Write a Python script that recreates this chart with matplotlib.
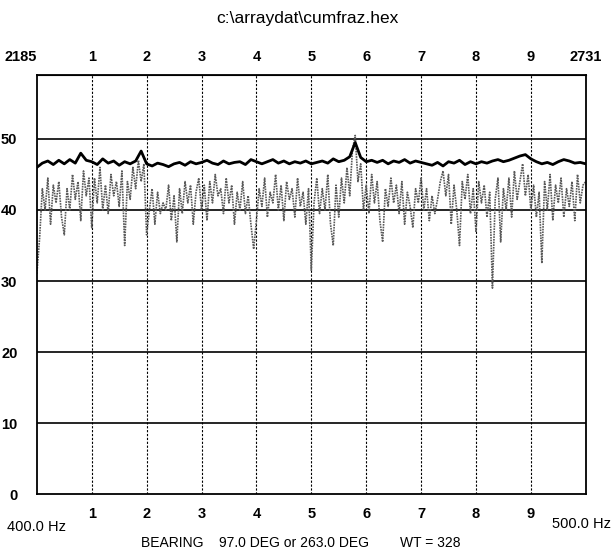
import numpy as np
import matplotlib
matplotlib.use("Agg")
import matplotlib.pyplot as plt

# upper (dark) trace, one value per 0.1 division
upper_trace = [
    46.0, 46.6, 46.9, 46.4, 47.0, 46.5, 47.1, 46.6, 48.0, 47.0, 46.8,
    46.4, 47.2, 46.6, 46.9, 46.3, 46.8, 46.5, 46.9, 48.3, 46.5,
    46.2, 46.6, 46.4, 46.1, 46.5, 46.7, 46.3, 46.8, 46.5, 46.7,
    47.0, 46.6, 46.4, 46.9, 46.5, 46.7, 46.8, 46.4, 47.1, 46.8,
    46.5, 46.8, 47.1, 46.6, 46.9, 46.5, 46.8, 46.6, 46.9, 46.5,
    46.7, 46.9, 46.6, 47.2, 46.8, 47.0, 47.5, 49.5, 47.4, 46.8,
    47.0, 46.7, 47.0, 46.5, 46.9, 46.7, 47.1, 46.6, 46.9, 46.7,
    46.5, 46.3, 46.7, 46.2, 46.8, 46.6, 47.0, 46.4, 46.8, 46.5,
    46.8, 46.6, 46.9, 47.1, 46.8, 47.0, 47.3, 47.6, 47.8, 47.2,
    46.8, 46.5, 46.7, 46.4, 46.8, 47.1, 46.9, 46.6, 46.7, 46.5,
]

# lower (grey, dotted) trace, one value per 0.05 division
lower_trace = [
    31.0, 36.0, 43.0, 40.0, 44.5, 38.0, 43.5, 41.0, 44.0, 39.0,
    36.5, 43.0, 40.0, 45.0, 41.5, 44.0, 38.5, 45.5, 42.0, 44.5,
    37.5, 44.5, 41.0, 46.0, 40.0, 43.5, 39.5, 45.0, 42.0, 44.0,
    40.5, 45.5, 35.0, 44.0, 41.5, 46.0, 43.0, 47.0, 44.0, 46.5,
    36.5, 40.0, 43.0, 38.0, 42.5, 39.5, 41.0, 40.0, 43.5, 38.5,
    42.0, 35.5, 43.0, 39.5, 44.0, 41.0, 43.5, 38.0, 42.5, 44.5,
    40.0, 43.5, 38.5, 44.0, 41.0, 45.0, 42.0, 43.0, 39.5, 44.5,
    41.0, 43.5, 38.0, 42.5, 40.0, 44.0, 39.5, 42.0, 38.0, 34.5,
    38.5, 43.0, 40.5, 44.5, 39.0, 42.5, 41.0, 45.0, 40.0, 43.5,
    38.5, 44.0, 41.5, 43.0, 39.0, 44.5, 40.5, 42.5, 38.0, 43.0,
    31.5, 41.0, 44.5, 39.5, 43.0, 40.0, 45.0, 38.0, 35.0, 43.5,
    39.0, 44.5, 41.0, 46.0, 42.0, 48.5, 50.5, 44.0, 46.5, 40.0,
    43.5, 39.5, 45.0, 41.0, 44.0, 38.5, 35.5, 43.0, 40.5, 44.5,
    41.0, 43.5, 39.5, 44.0, 38.0, 42.5, 40.5, 37.5, 43.0, 41.0,
    44.5, 40.0, 43.0, 38.5, 42.0, 39.5, 41.5, 44.0, 45.5, 42.0,
    45.0, 38.0, 43.5, 40.0, 35.0, 44.0, 41.5, 45.0, 39.5, 43.0,
    37.0, 44.0, 41.0, 43.5, 39.0, 42.5, 29.0, 41.5, 44.5, 35.5,
    43.0, 40.0, 44.5, 39.0, 45.5, 41.5, 44.0, 46.5, 42.0, 45.0,
    40.0, 43.5, 39.0, 42.5, 32.5, 44.0, 40.0, 45.0, 38.5, 43.5,
    41.0, 44.5, 39.0, 43.0, 40.5, 44.0, 38.5, 45.0, 41.0, 43.5,
    44.0,
]

top_labels = ["2185", "1", "2", "3", "4", "5", "6", "7", "8", "9", "2731"]
bottom_labels = ["1", "2", "3", "4", "5", "6", "7", "8", "9"]
y_ticks = [0, 10, 20, 30, 40, 50]

plt.rcParams['font.family'] = ['Liberation Sans', 'DejaVu Sans']

fig = plt.figure(figsize=(6.14, 5.52), dpi=100)
ax = fig.add_axes([0.060, 0.105, 0.894, 0.759])

x_up = np.linspace(0, 10, len(upper_trace))
x_lo = np.linspace(0, 10, len(lower_trace))

ax.plot(x_lo, lower_trace, color="#5a5a5a", lw=1.2, linestyle=(0, (1, 0.6)), zorder=2)
ax.plot(x_up, upper_trace, color="black", lw=2.0, zorder=3)

ax.set_xlim(0, 10)
ax.set_ylim(0, 59)

for yv in y_ticks[1:]:
    ax.axhline(yv, color="black", lw=1.2, zorder=1)
for xv in range(1, 10):
    ax.axvline(xv, color="black", lw=0.8, linestyle=(0, (2, 1.5)), zorder=1)

for sp in ax.spines.values():
    sp.set_linewidth(1.3)

ax.set_yticks(y_ticks)
ax.set_yticklabels([str(v) for v in y_ticks], fontsize=10.5, fontweight="bold")
ax.set_xticks(range(1, 10))
ax.set_xticklabels(bottom_labels, fontsize=10.5, fontweight="bold")
ax.tick_params(length=0, pad=9)
ax.tick_params(axis="y", pad=14)

top = ax.secondary_xaxis("top")
top.set_xticks(range(0, 11))
top.set_xticklabels(top_labels, fontsize=10.5, fontweight="bold")
top.tick_params(length=0, pad=8)
top.get_xticklabels()[0].set_horizontalalignment("right")

fig.text(0.5, 0.967, "c:\\arraydat\\cumfraz.hex", ha="center", va="center", fontsize=12.5)
fig.text(0.012, 0.045, "400.0 Hz", ha="left", va="center", fontsize=10.5)
fig.text(0.995, 0.050, "500.0 Hz", ha="right", va="center", fontsize=10.5)
fig.text(0.49, 0.016, "BEARING    97.0 DEG or 263.0 DEG        WT = 328",
         ha="center", va="center", fontsize=10)

fig.savefig("out.png", dpi=100)
